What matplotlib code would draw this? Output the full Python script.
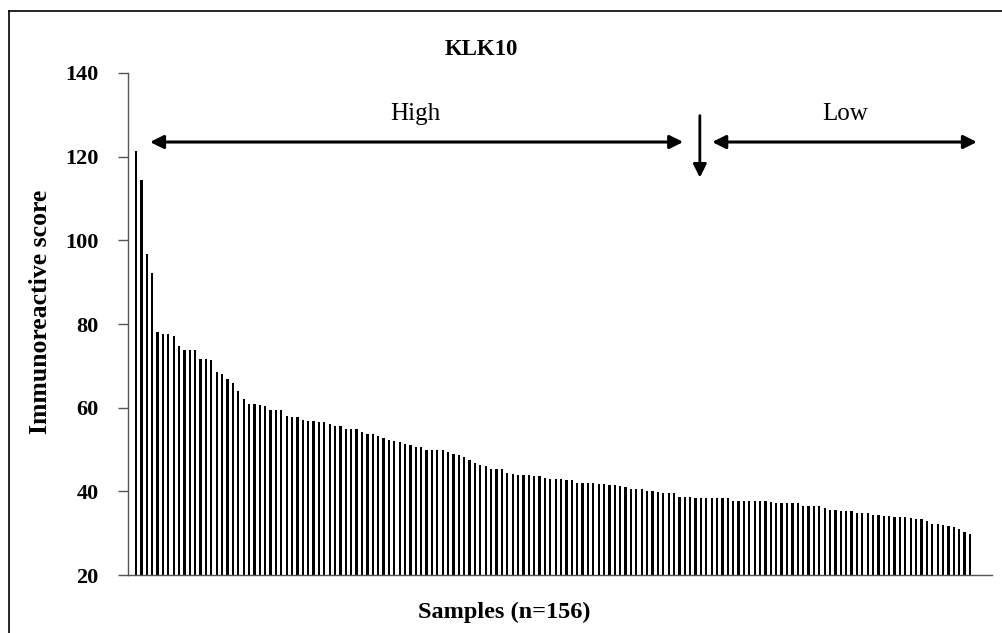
import matplotlib
matplotlib.use("Agg")
import matplotlib.pyplot as plt
from matplotlib.lines import Line2D
import numpy as np

# immunoreactive scores, sorted high -> low
scores = [
    121.3, 114.4, 96.7, 92.3, 78.1, 77.6, 77.6, 77.1, 74.8, 73.9,
    73.7, 73.7, 71.7, 71.7, 71.5, 68.5, 68.0, 66.8, 66.0, 64.0,
    62.1, 60.9, 60.9, 60.6, 60.3, 59.4, 59.4, 59.4, 57.9, 57.8,
    57.7, 57.0, 56.7, 56.7, 56.5, 56.5, 56.1, 55.7, 55.5, 54.9,
    54.9, 54.9, 54.2, 53.8, 53.8, 53.3, 52.7, 52.2, 52.1, 51.7,
    51.3, 51.0, 50.5, 50.5, 50.0, 49.8, 49.8, 49.8, 49.3, 49.0,
    48.8, 48.2, 47.6, 46.7, 46.4, 46.1, 45.4, 45.4, 45.4, 44.5,
    44.1, 43.9, 43.9, 43.9, 43.7, 43.7, 43.2, 42.9, 42.9, 42.9,
    42.7, 42.6, 42.1, 41.9, 41.9, 41.9, 41.7, 41.7, 41.4, 41.4,
    41.2, 41.0, 40.6, 40.5, 40.5, 40.2, 40.2, 39.8, 39.5, 39.5,
    39.5, 38.7, 38.7, 38.7, 38.5, 38.5, 38.3, 38.3, 38.3, 38.3,
    38.3, 37.8, 37.6, 37.6, 37.6, 37.6, 37.6, 37.6, 37.5, 37.3,
    37.3, 37.1, 37.1, 37.1, 36.6, 36.6, 36.4, 36.4, 36.1, 35.6,
    35.6, 35.4, 35.4, 35.4, 34.9, 34.9, 34.9, 34.4, 34.3, 34.1,
    34.1, 33.9, 33.9, 33.9, 33.6, 33.4, 33.4, 32.9, 32.1, 32.1,
    31.9, 31.7, 31.4, 31.1, 30.2, 29.9,
]
y_ticks = [20, 40, 60, 80, 100, 120, 140]
cutoff = 104.8  # split between High and Low groups (bar index)

serif = ["Liberation Serif", "DejaVu Serif"]

fig = plt.figure(figsize=(10.03, 6.33), dpi=100)
ax = fig.add_axes([0.1276, 0.0916, 0.989 - 0.1276, 0.8847 - 0.0916])

x = np.arange(len(scores))
ax.bar(x, scores, width=0.42, bottom=0, color="black", edgecolor="none")

ax.set_ylim(20, 140)
ax.set_xlim(-1.5, 159.1)
ax.set_yticks(y_ticks)
ax.set_yticklabels([str(t) for t in y_ticks], family=serif, fontweight="bold", fontsize=16)
ax.set_xticks([])
ax.tick_params(axis="y", direction="out", length=7, width=1, color="#555555", pad=14)

for s in ["top", "right"]:
    ax.spines[s].set_visible(False)
for s in ["left", "bottom"]:
    ax.spines[s].set_color("#555555")
    ax.spines[s].set_linewidth(1.0)

ax.set_ylabel("Immunoreactive score", family=serif, fontweight="bold", fontsize=18.5, labelpad=10, y=0.524)
ax.set_xlabel("Samples (n=156)", family=serif, fontweight="bold", fontsize=17.5, labelpad=19, x=0.436)
ax.set_title("KLK10", family=serif, fontweight="bold", fontsize=16.5, pad=13, x=0.409)

# group arrows
arr = dict(arrowstyle="<|-|>", color="black", lw=2.2, mutation_scale=20, shrinkA=0, shrinkB=0)
ax.annotate("", xy=(2.6, 123.5), xytext=(cutoff - 3.1, 123.5), arrowprops=arr, annotation_clip=False)
ax.annotate("", xy=(cutoff + 2.3, 123.5), xytext=(156.3, 123.5), arrowprops=arr, annotation_clip=False)
ax.annotate("", xy=(cutoff, 115.0), xytext=(cutoff, 129.8),
            arrowprops=dict(arrowstyle="-|>", color="black", lw=2.0, mutation_scale=20,
                            shrinkA=0, shrinkB=0), annotation_clip=False)
ax.text(51.9, 130.3, "High", family=serif, fontsize=18, ha="center", va="center")
ax.text(131.8, 130.3, "Low", family=serif, fontsize=18, ha="center", va="center")

# outer frame (cropped at right and bottom)
fig.add_artist(Line2D([9 / 1003, 9 / 1003], [0, 1 - 11 / 633], color="black", lw=1.2))
fig.add_artist(Line2D([9 / 1003, 1], [1 - 11 / 633, 1 - 11 / 633], color="black", lw=1.2))

fig.savefig("out.png", dpi=100, facecolor="white")
